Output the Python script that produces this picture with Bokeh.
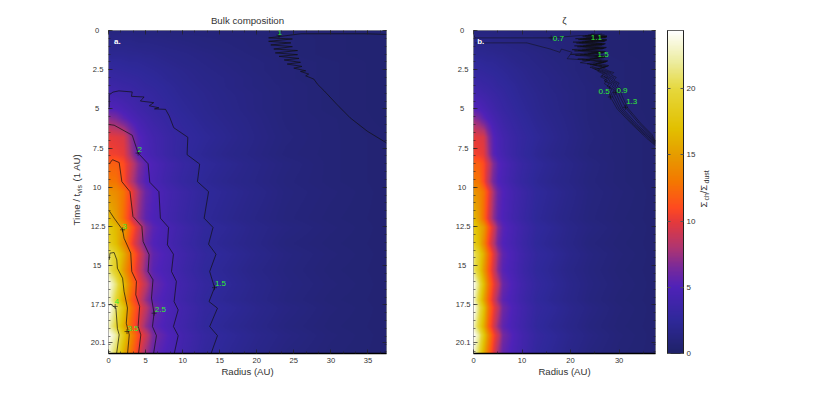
import numpy as np
import math
from bokeh.embed import file_html
from bokeh.resources import INLINE
from bokeh.layouts import row
from bokeh.plotting import figure
from bokeh.models import (Range1d, LinearAxis, FixedTicker, LinearColorMapper)
from bokeh.core.properties import value

# ---- surface density table ----
radii = [0, 1, 2, 3, 4, 5, 6, 8, 10, 13, 16, 20, 24, 30, 37.5]
times = [0, 0.5, 1, 1.5, 2, 2.5, 3, 3.5, 4, 5, 5.6, 6.8, 7.9, 8.5, 9.64, 10.28, 12, 12.56,
         13.6, 14.27, 15.3, 16.2, 17.2, 17.7, 18.9, 19.46, 20.65]
sigma = [
    [1.2, 1.2, 1.2, 1.2, 1.1, 1.1, 1.1, 1.0, 1.0, 0.9, 0.9, 0.8, 0.7, 0.6, 0.5],
    [1.5, 1.5, 1.5, 1.5, 1.4, 1.4, 1.4, 1.3, 1.2, 1.1, 1.0, 0.9, 0.8, 0.6, 0.5],
    [1.8, 1.8, 1.8, 1.8, 1.7, 1.7, 1.6, 1.5, 1.4, 1.2, 1.1, 0.9, 0.8, 0.6, 0.5],
    [2.1, 2.1, 2.1, 2.0, 2.0, 1.9, 1.9, 1.7, 1.6, 1.4, 1.2, 1.0, 0.8, 0.6, 0.5],
    [2.5, 2.5, 2.4, 2.3, 2.3, 2.2, 2.1, 1.9, 1.7, 1.5, 1.3, 1.1, 0.9, 0.7, 0.5],
    [2.9, 2.8, 2.7, 2.6, 2.5, 2.4, 2.3, 2.1, 1.9, 1.6, 1.4, 1.1, 0.9, 0.7, 0.5],
    [3.2, 3.1, 3.0, 2.9, 2.8, 2.6, 2.5, 2.2, 2.0, 1.7, 1.5, 1.2, 0.9, 0.7, 0.5],
    [3.6, 3.5, 3.3, 3.2, 3.0, 2.8, 2.7, 2.4, 2.1, 1.8, 1.5, 1.2, 1.0, 0.7, 0.5],
    [4.0, 3.9, 3.7, 3.5, 3.3, 3.1, 2.9, 2.5, 2.2, 1.9, 1.6, 1.3, 1.0, 0.7, 0.5],
    [5.2, 5.0, 4.6, 4.2, 3.8, 3.5, 3.2, 2.8, 2.4, 2.0, 1.7, 1.3, 1.0, 0.7, 0.5],
    [7.0, 6.5, 5.5, 4.8, 4.3, 3.9, 3.5, 3.0, 2.6, 2.1, 1.8, 1.4, 1.0, 0.8, 0.5],
    [10.0, 9.8, 9.5, 7.0, 5.3, 4.6, 4.1, 3.4, 2.9, 2.4, 2.0, 1.5, 1.1, 0.8, 0.6],
    [10.5, 10.4, 10.0, 7.5, 5.4, 4.7, 4.2, 3.4, 2.8, 2.2, 1.8, 1.4, 1.0, 0.8, 0.6],
    [12.0, 11.9, 11.0, 9.0, 6.8, 5.4, 4.8, 3.9, 3.2, 2.5, 2.1, 1.6, 1.2, 0.8, 0.6],
    [13.0, 12.8, 11.0, 8.4, 6.3, 5.1, 4.6, 3.7, 3.0, 2.3, 1.9, 1.5, 1.1, 0.8, 0.6],
    [14.5, 14.0, 12.8, 10.5, 7.8, 5.9, 5.1, 4.2, 3.5, 2.6, 2.2, 1.7, 1.2, 0.9, 0.6],
    [16.5, 15.0, 12.5, 9.8, 7.2, 5.5, 4.9, 4.0, 3.3, 2.4, 2.0, 1.5, 1.1, 0.8, 0.6],
    [18.0, 16.5, 15.0, 11.8, 9.4, 6.8, 5.4, 4.5, 3.7, 2.7, 2.3, 1.7, 1.3, 0.9, 0.6],
    [18.5, 16.8, 14.0, 10.8, 8.4, 6.1, 5.1, 4.3, 3.5, 2.5, 2.1, 1.6, 1.1, 0.8, 0.6],
    [21.0, 18.8, 16.0, 12.5, 10.0, 7.4, 5.6, 4.7, 3.8, 2.8, 2.4, 1.8, 1.3, 0.9, 0.6],
    [21.0, 18.5, 15.0, 11.8, 9.4, 6.8, 5.3, 4.5, 3.6, 2.6, 2.2, 1.6, 1.2, 0.8, 0.6],
    [24.0, 21.0, 17.0, 13.0, 10.5, 8.5, 6.0, 4.9, 3.9, 2.9, 2.4, 1.8, 1.3, 0.9, 0.6],
    [23.0, 19.5, 15.5, 12.0, 9.6, 7.2, 5.5, 4.6, 3.7, 2.7, 2.2, 1.7, 1.2, 0.8, 0.6],
    [24.4, 21.0, 17.5, 13.0, 10.5, 8.5, 6.2, 4.9, 4.0, 2.9, 2.5, 1.9, 1.4, 0.9, 0.6],
    [22.5, 19.5, 16.0, 12.0, 9.6, 7.2, 5.6, 4.6, 3.8, 2.7, 2.2, 1.7, 1.2, 0.8, 0.6],
    [24.4, 22.0, 18.0, 14.0, 11.0, 9.0, 6.4, 5.1, 4.1, 3.0, 2.5, 1.9, 1.4, 0.9, 0.6],
    [23.0, 20.0, 16.0, 12.5, 10.0, 7.4, 5.7, 4.7, 3.9, 2.8, 2.3, 1.7, 1.2, 0.8, 0.6],
]

# ---- colour scale anchors ----
cmap_values = [0, 2.5, 5, 6.5, 8, 10, 11, 13, 15, 17, 20, 22, 24.4]
cmap_colors = ["#1f2268", "#2f289a", "#4f22b8", "#7a2a99", "#b03570", "#e63a3a", "#ff4a20",
               "#f47800", "#e69c00", "#e2c000", "#e6d83c", "#ecec9c", "#ffffff"]

# ---- panel a contours: radius, time ----
a_1_r = [37.5, 34.7, 25.9, 23.0, 21.6, 24.8, 21.6, 24.6, 21.9, 24.8, 22.3, 25.5, 22.5, 25.5, 23.0, 25.7, 23.7, 25.9, 24.1, 26.1, 25.0, 26.6, 25.9, 27.0, 26.6, 27.7, 28.2, 29.1, 30.8, 32.6, 34.9, 37.5]
a_1_t = [0.25, 0.21, 0.21, 0.39, 0.47, 0.54, 0.69, 0.79, 0.92, 1.03, 1.18, 1.28, 1.43, 1.54, 1.65, 1.78, 1.88, 2.03, 2.14, 2.29, 2.40, 2.57, 2.61, 2.78, 2.89, 3.1, 3.43, 3.85, 4.71, 5.57, 6.42, 7.17]
a_15_r = [0.1, 0.1, 0.6, 1.4, 3.2, 3.1, 4.8, 4.3, 6.1, 5.5, 6.8, 6.2, 7.7, 8.2, 8.8, 10.7, 10.6, 12.3, 12.0, 13.5, 12.9, 14.1, 13.5, 14.5, 13.65, 14.3, 13.56, 14.7, 13.65, 14.7, 13.8]
a_15_t = [4.9, 4.1, 3.93, 3.85, 3.92, 4.2, 4.24, 4.5, 4.6, 4.8, 4.93, 5.0, 5.03, 5.46, 6.2, 6.81, 7.92, 8.52, 9.64, 10.28, 11.97, 12.56, 13.63, 14.27, 15.37, 16.4, 17.29, 17.71, 18.88, 19.46, 20.65]
a_2_r = [0.1, 0.76, 3.2, 4.0, 5.34, 5.57, 6.8, 7.0, 8.1, 7.95, 8.76, 8.5, 9.16, 8.85, 9.4, 8.76, 9.4, 8.85]
a_2_t = [6.0, 6.04, 6.68, 7.82, 8.5, 9.68, 10.28, 11.97, 12.56, 13.67, 14.27, 15.37, 16.0, 17.29, 17.82, 18.88, 19.46, 20.65]
a_25_r = [0.1, 0.54, 1.44, 1.8, 2.9, 3.3, 4.5, 4.67, 5.48, 5.34, 6.0, 5.8, 6.15, 5.93, 6.47, 6.06]
a_25_t = [8.5, 8.24, 8.42, 9.64, 10.28, 11.86, 12.5, 13.46, 14.3, 15.37, 15.9, 17.07, 18.03, 18.88, 19.46, 20.65]
a_3_r = [0.1, 0.76, 1.9, 2.1, 3.0, 3.14, 3.77, 3.68, 4.2, 4.0, 4.36, 4.04]
a_3_t = [11.5, 11.97, 12.71, 13.25, 14.2, 15.37, 16.0, 16.86, 17.6, 18.88, 19.41, 20.65]
a_35_r = [0.1, 0.2, 0.76, 1.12, 1.2, 1.9, 2.1, 2.56, 2.4, 2.8, 2.56]
a_35_t = [14.63, 14.2, 14.16, 14.63, 15.16, 15.8, 16.65, 17.7, 18.67, 19.41, 20.65]
a_4_r = [0.1, 0.3, 1.0, 1.2, 1.44, 1.08]
a_4_t = [17.5, 17.46, 17.7, 19.0, 19.41, 20.65]
a_label_text = ["1", "1.5", "2", "2.5", "3", "3.5", "4"]
a_label_r = [23.1, 15.1, 4.2, 7.0, 2.2, 3.3, 1.1]
a_label_t = [0.1, 16.16, 7.6, 17.8, 12.5, 19.0, 17.3]
a_mark_r = [23.0, 14.3, 4.0, 6.15, 1.9, 2.5, 0.9]
a_mark_t = [0.3, 16.4, 7.82, 18.03, 12.71, 19.2, 17.6]

# ---- panel b contours: radius, time ----
b_05_r = [0.3, 11.0, 15.8, 17.8, 18.1, 20.3, 19.3, 24.0, 22.0, 25.5, 24.0, 26.0, 25.6, 26.8, 26.2, 27.4, 27.0, 28.1, 27.8, 28.2, 29.6, 32.7, 35.8, 37.5]
b_05_t = [0.79, 0.79, 1.18, 1.39, 1.18, 1.39, 1.8, 1.9, 2.05, 2.2, 2.35, 2.45, 2.6, 2.78, 2.95, 3.15, 3.4, 3.6, 3.85, 4.24, 5.0, 6.0, 6.9, 7.35]
b_07_r = [0.1, 0.3, 16.0, 22.0, 27.5, 21.0, 26.8, 20.5, 26.5, 20.8, 26.0, 20.3, 26.2, 20.0, 26.4, 21.5, 26.4, 23.4, 26.5, 24.5, 26.0, 27.2, 26.4, 27.6, 26.9, 28.0, 27.5, 28.5, 28.2, 28.7, 30.0, 33.0, 36.0, 37.5]
b_07_t = [0.3, 0.47, 0.47, 0.32, 0.4, 0.52, 0.62, 0.74, 0.85, 0.98, 1.1, 1.22, 1.36, 1.52, 1.66, 1.82, 1.96, 2.12, 2.26, 2.4, 2.6, 2.75, 2.9, 3.05, 3.2, 3.4, 3.55, 3.75, 3.9, 4.24, 5.0, 6.0, 6.85, 7.3]
b_09_r = [27.0, 22.5, 27.2, 21.6, 27.0, 21.2, 26.5, 21.4, 26.6, 20.8, 26.6, 21.0, 26.8, 22.4, 26.9, 24.0, 27.0, 25.0, 26.5, 27.6, 26.9, 28.0, 27.4, 28.5, 28.0, 29.0, 28.7, 29.2, 30.4, 33.3, 36.2, 37.5]
b_09_t = [0.27, 0.36, 0.46, 0.58, 0.7, 0.8, 0.93, 1.04, 1.17, 1.3, 1.44, 1.58, 1.74, 1.88, 2.03, 2.18, 2.33, 2.47, 2.6, 2.77, 2.92, 3.08, 3.24, 3.42, 3.6, 3.78, 3.95, 4.24, 5.0, 6.0, 6.8, 7.25]
b_11_r = [26.5, 23.0, 27.4, 22.0, 27.2, 21.8, 26.8, 22.0, 26.9, 21.6, 26.8, 22.0, 27.1, 23.2, 27.3, 24.6, 27.4, 25.6, 27.0, 28.0, 27.4, 28.4, 27.9, 29.0, 28.6, 29.4, 29.3, 29.7, 30.8, 33.7, 36.4, 37.5]
b_11_t = [0.22, 0.33, 0.42, 0.55, 0.66, 0.77, 0.9, 1.01, 1.14, 1.27, 1.4, 1.55, 1.7, 1.85, 2.0, 2.15, 2.3, 2.44, 2.6, 2.74, 2.9, 3.05, 3.22, 3.4, 3.58, 3.76, 3.94, 4.24, 5.0, 6.0, 6.75, 7.2]
b_13_r = [25.0, 23.6, 27.5, 22.6, 27.4, 22.4, 27.0, 22.6, 27.2, 22.4, 27.0, 22.8, 27.3, 24.0, 27.5, 25.2, 27.7, 26.1, 27.5, 28.4, 27.9, 28.9, 28.4, 29.5, 29.1, 29.9, 29.8, 30.2, 31.3, 34.0, 36.6, 37.5]
b_13_t = [0.2, 0.3, 0.38, 0.51, 0.62, 0.73, 0.87, 0.98, 1.11, 1.24, 1.37, 1.52, 1.67, 1.82, 1.97, 2.12, 2.27, 2.41, 2.6, 2.71, 2.87, 3.02, 3.2, 3.38, 3.56, 3.74, 3.92, 4.24, 4.9, 5.9, 6.7, 7.15]
b_15_r = [24.5, 24.2, 27.5, 23.2, 27.5, 23.0, 27.2, 23.2, 27.4, 23.2, 27.2, 23.6, 27.5, 24.8, 27.7, 25.8, 27.9, 26.6, 28.0, 28.9, 28.4, 29.4, 28.9, 30.0, 29.6, 30.4, 30.3, 30.7, 31.8, 34.4, 36.8, 37.5]
b_15_t = [0.18, 0.27, 0.35, 0.48, 0.59, 0.7, 0.84, 0.95, 1.08, 1.21, 1.34, 1.49, 1.64, 1.79, 1.94, 2.09, 2.24, 2.38, 2.6, 2.68, 2.84, 2.99, 3.18, 3.36, 3.54, 3.72, 3.9, 4.24, 4.95, 5.9, 6.65, 7.1]
b_label_text = ["0.7", "1.1", "1.5", "0.5", "0.9", "1.3"]
b_label_r = [17.5, 25.3, 26.7, 26.9, 30.6, 32.6]
b_label_t = [0.5, 0.45, 1.5, 3.9, 3.85, 4.56]
b_mark_r = [16.0, 24.5, 25.5, 28.2, 29.2, 31.3]
b_mark_t = [0.47, 0.6, 1.6, 4.24, 3.95, 4.9]

x_ticks_a = [0, 5, 10, 15, 20, 25, 30, 35]
x_ticks_b = [0, 10, 20, 30]
y_ticks = [0, 2.5, 5, 7.5, 10, 12.5, 15, 17.5, 19.93]
y_labels = ["0", "2.5", "5", "7.5", "10", "12.5", "15", "17.5", "20.1"]
bar_ticks = [0, 5, 10, 15, 20]

FONT = "Liberation Sans"
R_MAX, T_MAX, S_MAX = 37.5, 20.6, 24.4
GREEN = "#30f030"
TICK = "#222222"


def hex_rgb(c):
    return [int(c[i:i + 2], 16) for i in (1, 3, 5)]


anch = np.array([hex_rgb(c) for c in cmap_colors], dtype=float)
lv = np.linspace(0, S_MAX, 256)
palette = ["#%02x%02x%02x" % tuple(int(round(np.interp(v, cmap_values, anch[:, k]))) for k in range(3)) for v in lv]
mapper = LinearColorMapper(palette=palette, low=0, high=S_MAX)


def display_grid(nx, ny):
    # finer raster for display only; the values are the table above
    tbl = np.array(sigma)
    xs = np.linspace(0, R_MAX, nx)
    ys = np.linspace(0, T_MAX, ny)
    by_r = np.array([np.interp(xs, radii, r) for r in tbl])
    return np.array([np.interp(ys, times, by_r[:, j]) for j in range(nx)]).T


def blank(ticks):
    return {t: "" for t in ticks}


def panel(title, frame_w, left, right, x_ticks, x_minor):
    p = figure(frame_width=frame_w, frame_height=323, x_range=Range1d(0, R_MAX), y_range=Range1d(T_MAX, 0),
               output_backend="svg", toolbar_location=None, min_border_left=left, min_border_right=right,
               min_border_top=30, min_border_bottom=36, x_axis_type=None, y_axis_type=None,
               title=title, background_fill_color="white")
    p.title.align = "center"
    p.title.text_font = FONT
    p.title.text_font_size = "9.7px"
    p.title.text_font_style = "normal"
    p.title.text_color = "#333333"
    p.title.standoff = 9
    p.grid.visible = False
    p.outline_line_color = "#999999"
    p.image(image=[display_grid(frame_w, 323)], x=0, y=0, dw=R_MAX, dh=T_MAX, color_mapper=mapper)
    minor_y = [v / 2 for v in range(0, 42)]
    pads = ["\u00a0\u00a0\u00a0", "\u00a0", "\u00a0\u00a0\u00a0", "\u00a0", "\u00a0\u00a0", "", "\u00a0\u00a0", "", ""]
    for side in ("below", "above"):
        ax = LinearAxis(ticker=FixedTicker(ticks=x_ticks, minor_ticks=x_minor), major_tick_in=4, major_tick_out=0,
                        minor_tick_in=2, minor_tick_out=0, major_tick_line_color=TICK, minor_tick_line_color=TICK,
                        major_tick_line_width=0.7, minor_tick_line_width=0.6,
                        axis_line_color="#000000" if side == "below" else None, axis_line_width=1.5,
                        major_label_standoff=4, major_label_text_font=FONT, major_label_text_font_size="7.6px",
                        major_label_text_color="#333333")
        if side == "below":
            ax.axis_label = "Radius (AU)"
            ax.axis_label_text_font = FONT
            ax.axis_label_text_font_size = "9.6px"
            ax.axis_label_text_font_style = "normal"
            ax.axis_label_text_color = "#333333"
            ax.axis_label_standoff = 0
        else:
            ax.major_label_overrides = blank(x_ticks)
            ax.major_label_standoff = 0
        p.add_layout(ax, side)
    for side in ("left", "right"):
        ax = LinearAxis(ticker=FixedTicker(ticks=y_ticks, minor_ticks=minor_y), major_tick_in=4, major_tick_out=0,
                        minor_tick_in=2, minor_tick_out=0, major_tick_line_color=TICK, minor_tick_line_color=TICK,
                        major_tick_line_width=0.7, minor_tick_line_width=0.6,
                        axis_line_color=None, major_label_standoff=3, major_label_text_font=FONT,
                        major_label_text_font_size="7.6px", major_label_text_color="#333333")
        if side == "left":
            ax.major_label_overrides = {t: l + pd for t, l, pd in zip(y_ticks, y_labels, pads)}
        else:
            ax.major_label_overrides = blank(y_ticks)
            ax.major_label_standoff = 0
        p.add_layout(ax, side)
    return p


def draw_notes(p, tag, tag_r, texts, rs, ts, mrs, mts):
    p.scatter(mrs, mts, marker="cross", size=5, line_color="#111111", line_width=0.6)
    p.text(rs, ts, text=texts, text_font=value(FONT), text_font_size="8px", text_color=GREEN,
           text_align="center", text_baseline="middle")
    p.text([tag_r], [0.73], text=[tag], text_font=value(FONT), text_font_size="8px", text_font_style="bold",
           text_color="white", text_align="center", text_baseline="middle")


def side_panel(width, x0):
    # a blank strip beside the panels that carries the rotated, subscripted axis captions
    p = figure(frame_width=width, frame_height=323, x_range=Range1d(x0, x0 + width), y_range=Range1d(353, 30),
               output_backend="svg", toolbar_location=None, min_border_left=0, min_border_right=0,
               min_border_top=30, min_border_bottom=36, x_axis_type=None, y_axis_type=None)
    p.grid.visible = False
    p.outline_line_color = None
    return p


def side_text(p, x, y, text, size):
    p.text([x], [y], text=[text], angle=math.pi / 2, text_font=value(FONT), text_font_size=size,
           text_color="#333333", text_align="left", text_baseline="middle")


p0 = side_panel(87, 0)
side_text(p0, 75.5, 225, "Time / t", "9.6px")
side_text(p0, 78.5, 193, "vis", "7px")
side_text(p0, 75.5, 181, "(1 AU)", "9.6px")

p1 = panel("Bulk composition", 278, 20, 47, x_ticks_a, [5 * k / 3 for k in range(0, 23)])
for rr, tt in [(a_1_r, a_1_t), (a_15_r, a_15_t), (a_2_r, a_2_t), (a_25_r, a_25_t), (a_3_r, a_3_t), (a_35_r, a_35_t), (a_4_r, a_4_t)]:
    p1.line(rr, tt, line_color="#111111", line_width=0.7)
draw_notes(p1, "a.", 1.2, a_label_text, a_label_r, a_label_t, a_mark_r, a_mark_t)

p2 = panel("\u03b6", 182, 40, 12, x_ticks_b, [5, 15, 25, 35])
for rr, tt in [(b_05_r, b_05_t), (b_07_r, b_07_t), (b_09_r, b_09_t), (b_11_r, b_11_t), (b_13_r, b_13_t), (b_15_r, b_15_t)]:
    p2.line(rr, tt, line_color="#111111", line_width=0.5)
draw_notes(p2, "b.", 1.5, b_label_text, b_label_r, b_label_t, b_mark_r, b_mark_t)

p3 = figure(frame_width=16, frame_height=323, x_range=Range1d(0, 1), y_range=Range1d(0, S_MAX),
            output_backend="svg", toolbar_location=None, min_border_left=0, min_border_right=14,
            min_border_top=30, min_border_bottom=36, x_axis_type=None, y_axis_type=None)
p3.grid.visible = False
p3.outline_line_color = "#333333"
p3.image(image=[lv.reshape(-1, 1)], x=0, y=0, dw=1, dh=S_MAX, color_mapper=mapper)
for side in ("left", "right"):
    ax = LinearAxis(ticker=FixedTicker(ticks=bar_ticks), major_tick_in=3, major_tick_out=0, minor_tick_in=0, minor_tick_out=0,
                    axis_line_color="#222222", major_tick_line_color="#555555", major_label_standoff=3,
                    major_label_text_font=FONT, major_label_text_font_size="8px", major_label_text_color="#333333")
    if side == "left":
        ax.major_label_overrides = blank(bar_ticks)
        ax.major_label_standoff = 0
    p3.add_layout(ax, side)

p4 = side_panel(40, 697)
side_text(p4, 702, 207, "\u03a3", "9.6px")
side_text(p4, 705, 200, "ch", "7px")
side_text(p4, 702, 193, "/\u03a3", "9.6px")
side_text(p4, 705, 183, "dust", "7px")

layout = row(p0, p1, p2, p3, p4, spacing=0)
open("out.html", "w").write(file_html(layout, INLINE))
